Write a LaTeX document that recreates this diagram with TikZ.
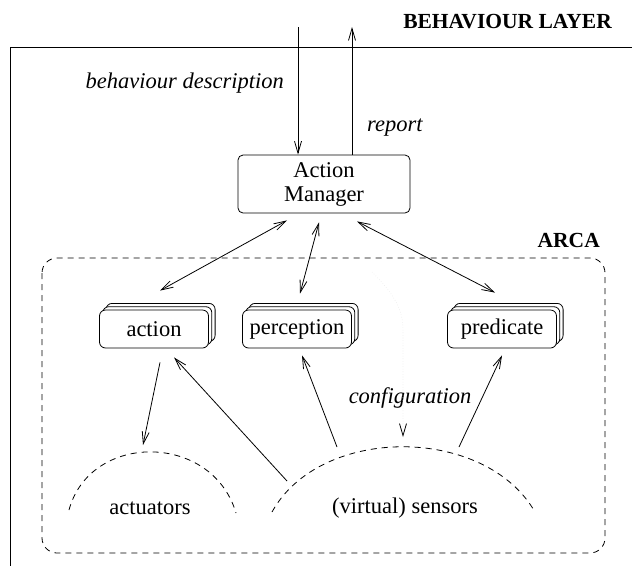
\documentclass[tikz,border=0pt]{standalone}
\usepackage{fontspec}
\setmainfont{Liberation Serif}
\usetikzlibrary{arrows.meta,shadows}

\tikzset{
  txt/.style={font=\fontsize{22.5}{24}\selectfont, inner sep=0pt},
  itxt/.style={txt, font=\fontsize{22.5}{24}\selectfont\itshape},
  btxt/.style={txt, font=\fontsize{21.5}{24}\selectfont\bfseries},
  mgrbox/.style={txt, draw, rounded corners=5pt, minimum width=172pt,
    minimum height=58pt, align=center, line width=0.8pt},
  stackbox/.style={txt, draw, fill=white, rounded corners=6pt,
    minimum width=109pt, minimum height=38pt, line width=0.8pt,
    double copy shadow={shadow xshift=3.3pt, shadow yshift=3.3pt,
      fill=white, draw=black, line width=0.8pt}},
  conn/.style={line width=0.8pt, -{Straight Barb[length=12pt,width=7pt]}},
  biconn/.style={line width=0.8pt,
    {Straight Barb[length=12pt,width=7pt]}-{Straight Barb[length=12pt,width=7pt]}},
  dashline/.style={line width=0.8pt, dash pattern=on 6pt off 5pt},
}

\begin{document}
\begin{tikzpicture}[x=1pt, y=-1pt]
\useasboundingbox (0,0) rectangle (632,566);

% layer frame
\draw[line width=0.8pt] (632,47) -- (10,47) -- (10,566);
\node[btxt, anchor=east] (layer) at (612,22) {BEHAVIOUR LAYER};

% ARCA region
\draw[dashline, rounded corners=15pt] (42,258) rectangle (605,553);
\node[btxt, anchor=east] (arca) at (600,240) {ARCA};

% action manager
\node[mgrbox] (am) at (324,184) {Action\\Manager};
\coordinate (bdtop) at (298,27);
\coordinate (rptop) at (352,27);
\draw[conn] (bdtop) -- ([xshift=-26pt]am.north);
\draw[conn] ([xshift=28pt]am.north) -- (rptop);
\node[itxt, anchor=east] (bdlabel) at (284,83) {behaviour description};
\node[itxt, anchor=west] (rplabel) at (367,128) {report};

% components
\node[stackbox] (action) at (154,329) {action};
\node[stackbox] (perception) at (297,329) {perception};
\node[stackbox] (predicate) at (502,329) {predicate};

\draw[biconn] ([shift={(-37,7)}]am.south) -- ([shift={(6,-19)}]action.north);
\draw[biconn] ([shift={(-5,9)}]am.south) -- ([shift={(3,-16)}]perception.north);
\draw[biconn] ([shift={(33,8)}]am.south) -- ([shift={(-7,-17)}]predicate.north);

% actuators and sensors
\coordinate (acttop) at (150,452);
\coordinate (sentop) at (403,447);
\draw[dashline] (69,510) .. controls (90,432) and (212,432) .. (236,513);
\draw[dashline] (272,512) .. controls (320,425) and (485,425) .. (535,512);
\node[txt] (actuators) at (150,508) {actuators};
\node[txt] (sensors) at (405,508) {(virtual) sensors};

\draw[conn] ([shift={(6,14)}]action.south) -- ([shift={(-7,-7)}]acttop);
\draw[conn] ([shift={(-116,34)}]sentop) -- ([shift={(20,9)}]action.south);
\draw[conn] ([shift={(-66,0)}]sentop) -- ([shift={(5,7)}]perception.south);
\draw[conn] ([shift={(56,0)}]sentop) -- ([shift={(0,7)}]predicate.south);

% configuration
\node[itxt] (config) at (410,398) {configuration};
\coordinate (cfgtip) at ([shift={(0,-10)}]sentop);
\draw[line width=0.6pt, draw=black!8, dotted,
  -{Straight Barb[length=12pt,width=7pt,color=black,line width=0.8pt]}]
  (372,272) .. controls (395,295) and (403,310) .. (403,330) -- (cfgtip);
\end{tikzpicture}
\end{document}
